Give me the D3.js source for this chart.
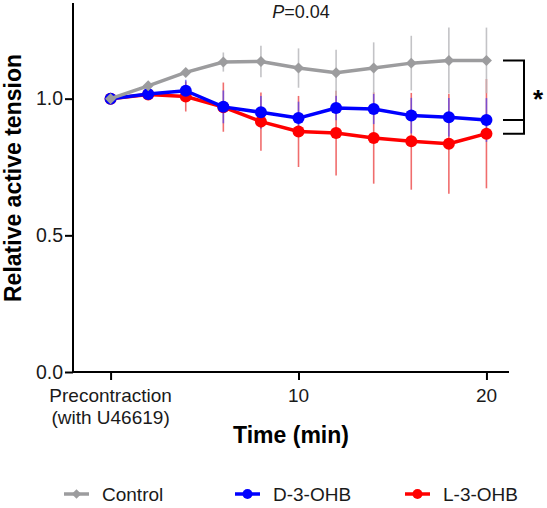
<!DOCTYPE html>
<html><head><meta charset="utf-8">
<script src="https://cdn.jsdelivr.net/npm/d3@7"></script>
<style>
html,body{margin:0;padding:0;background:#fff;}
svg{display:block;font-family:Arial,"Liberation Sans",Helvetica,sans-serif;}
</style></head>
<body><svg id="c" width="547" height="508"></svg>
<script>
const times = [0,2,4,6,8,10,12,14,16,18,20];
const controlMean = [1.000,1.047,1.096,1.134,1.136,1.112,1.095,1.112,1.130,1.140,1.140];
const controlSD   = [0.000,0.010,0.015,0.035,0.058,0.072,0.084,0.094,0.100,0.120,0.120];
const dMean = [1.000,1.017,1.029,0.970,0.950,0.929,0.966,0.962,0.938,0.932,0.922];
const dSD   = [0.000,0.010,0.040,0.060,0.060,0.060,0.045,0.055,0.065,0.070,0.080];
const lMean = [1.000,1.015,1.008,0.969,0.916,0.880,0.874,0.856,0.844,0.835,0.872];
const lSD   = [0.000,0.010,0.055,0.090,0.107,0.130,0.155,0.167,0.177,0.183,0.200];
const seriesNames = ["Control","D-3-OHB","L-3-OHB"];
const xTickValues = [0,10,20];
const xTickLabels = [["Precontraction","(with U46619)"],["10"],["20"]];
const yTickValues = [0.0,0.5,1.0];
const pText = "0.04";

const svg = d3.select("#c");
const x = d3.scaleLinear().domain([-2,21.2]).range([73,509]);
const y = d3.scaleLinear().domain([0,1.35]).range([372,3]);

const series = [
  {name:seriesNames[2], mean:lMean, sd:lSD, color:"#ff0000", bar:"rgba(235,60,60,0.75)", shape:"circle"},
  {name:seriesNames[1], mean:dMean, sd:dSD, color:"#0000ff", bar:"rgba(60,60,255,0.65)", shape:"circle"},
  {name:seriesNames[0], mean:controlMean, sd:controlSD, color:"#9c9c9e", bar:"rgba(185,185,188,0.85)", shape:"diamond"}
];

// error bars
series.forEach(s=>{
  svg.append("g").selectAll("line").data(times).join("line")
    .attr("x1",(d)=>x(d)).attr("x2",(d)=>x(d))
    .attr("y1",(d,i)=>y(s.mean[i]+s.sd[i])).attr("y2",(d,i)=>y(s.mean[i]-s.sd[i]))
    .attr("stroke",s.bar).attr("stroke-width",1.6);
});
const line = d3.line();
series.forEach(s=>{
  svg.append("path").datum(times.map((t,i)=>[x(t),y(s.mean[i])]))
    .attr("d",line).attr("fill","none").attr("stroke",s.color).attr("stroke-width",3.5)
    .attr("stroke-linejoin","round");
  const g = svg.append("g");
  if(s.shape==="circle"){
    g.selectAll("circle").data(times).join("circle")
      .attr("cx",d=>x(d)).attr("cy",(d,i)=>y(s.mean[i])).attr("r",6).attr("fill",s.color);
  } else {
    g.selectAll("path").data(times).join("path")
      .attr("d",d3.symbol(d3.symbolSquare,60))
      .attr("transform",(d,i)=>`translate(${x(d)},${y(s.mean[i])}) rotate(45)`)
      .attr("fill",s.color);
  }
});

// axes
const yAxis = svg.append("g").attr("transform","translate(73,0)")
  .call(d3.axisLeft(y).tickValues(yTickValues).tickFormat(d3.format(".1f")).tickSize(8).tickSizeOuter(0));
const xAxis = svg.append("g").attr("transform","translate(0,372)")
  .call(d3.axisBottom(x).tickValues(xTickValues).tickFormat("").tickSize(8).tickSizeOuter(0));
[yAxis,xAxis].forEach(a=>{
  a.select(".domain").attr("stroke","#000").attr("stroke-width",2);
  a.selectAll(".tick line").attr("stroke","#000").attr("stroke-width",2);
});
yAxis.selectAll(".tick text").attr("font-size",19.5).attr("fill","#1a1a1a").attr("x",-10).attr("font-family","Arial, Liberation Sans, sans-serif");
yAxis.select(".domain").attr("d",`M0,${y(1.35)}V${372}`);
xAxis.select(".domain").attr("d",`M73,0H509`);

const xl = svg.append("g");
xTickValues.forEach((v,i)=>{
  const t = xl.append("text").attr("x",x(v)).attr("y",402).attr("text-anchor","middle")
    .attr("font-size",19).attr("fill","#1a1a1a");
  xTickLabels[i].forEach((ln,j)=>{
    t.append("tspan").attr("x",x(v)).attr("dy",j===0?0:22).text(ln);
  });
});

svg.append("text").attr("x",291).attr("y",443).attr("text-anchor","middle")
  .attr("font-size",23).attr("font-weight","bold").attr("fill","#000").text("Time (min)");
svg.append("text").attr("transform","translate(21,178) rotate(-90)").attr("text-anchor","middle")
  .attr("font-size",23).attr("font-weight","bold").attr("fill","#000").text("Relative active tension");

const pt = svg.append("text").attr("x",301).attr("y",18).attr("text-anchor","middle")
  .attr("font-size",18).attr("fill","#1a1a1a");
pt.append("tspan").attr("font-style","italic").text("P");
pt.append("tspan").text("="+pText);

// significance bracket
const last = times.length-1;
const yc = y(controlMean[last]), yd = y(dMean[last]), yl = y(lMean[last]);
const bx0 = 503, bx1 = 524;
svg.append("path").attr("d",`M${bx0},${yc}H${bx1}V${yl}H${bx0}M${bx0},${yd}H${bx1}`)
  .attr("fill","none").attr("stroke","#000").attr("stroke-width",2);
svg.append("text").attr("x",538).attr("y",(yc+yd)/2+18).attr("text-anchor","middle")
  .attr("font-size",26).attr("font-weight","bold").text("*");

// legend
const leg = [
  {name:seriesNames[0], color:"#9c9c9e", shape:"diamond", x0:64},
  {name:seriesNames[1], color:"#0000ff", shape:"circle", x0:235},
  {name:seriesNames[2], color:"#ff0000", shape:"circle", x0:405}
];
const ly = 494;
leg.forEach(l=>{
  svg.append("line").attr("x1",l.x0).attr("x2",l.x0+25).attr("y1",ly).attr("y2",ly)
    .attr("stroke",l.color).attr("stroke-width",3.5);
  if(l.shape==="circle"){
    svg.append("circle").attr("cx",l.x0+12.5).attr("cy",ly).attr("r",5).attr("fill",l.color);
  } else {
    svg.append("path").attr("d",d3.symbol(d3.symbolSquare,45)).attr("transform",`translate(${l.x0+12.5},${ly}) rotate(45)`).attr("fill",l.color);
  }
  svg.append("text").attr("x",l.x0+38).attr("y",ly+7).attr("font-size",19).attr("fill","#1a1a1a").text(l.name);
});
</script></body></html>
